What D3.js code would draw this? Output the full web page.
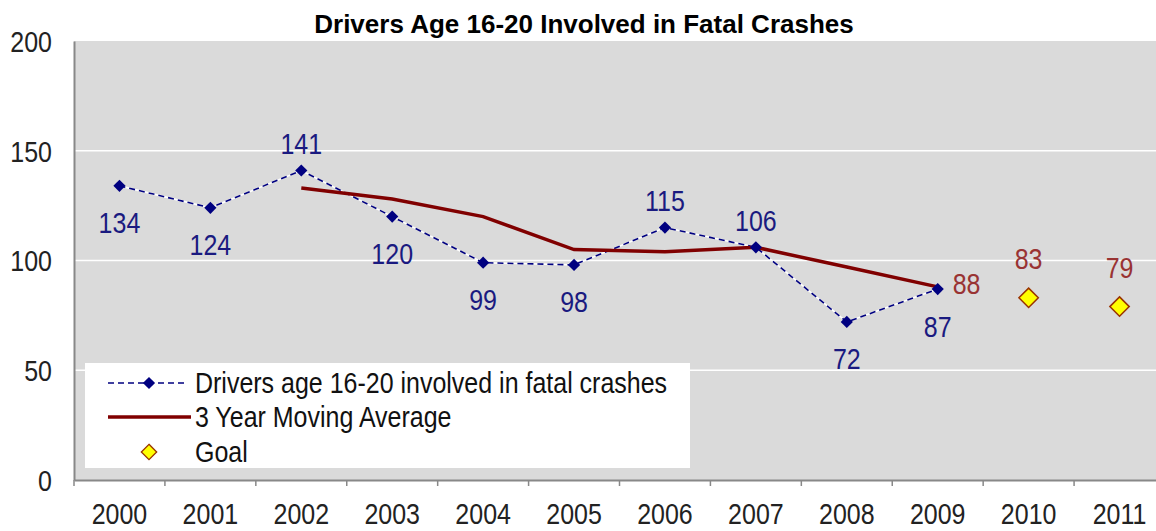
<!DOCTYPE html>
<html>
<head>
<meta charset="utf-8">
<script src="https://cdn.jsdelivr.net/npm/d3@7"></script>
<style>
  body { margin: 0; background: #ffffff; }
  svg { display: block; }
  text {
    font-family: "Liberation Sans", Arial, sans-serif;
    transform-box: fill-box;
    transform-origin: center;
    transform: scaleY(1.17);
  }
  text.title { transform: none; }
</style>
</head>
<body>
<div id="chart"></div>
<script>
// chart data
var years = ["2000", "2001", "2002", "2003", "2004", "2005", "2006", "2007", "2008", "2009", "2010", "2011"];
var drivers = [134, 124, 141, 120, 99, 98, 115, 106, 72, 87];
var driverLabelPos = ["below", "below", "above", "below", "below", "below", "above", "above", "below", "below"];
var movingAvgYears = ["2002", "2003", "2004", "2005", "2006", "2007", "2008", "2009"];
var movingAvg = [133, 128, 120, 105, 104, 106, 97, 88];
var goalYears = ["2010", "2011"];
var goals = [83, 79];
var yTicks = [0, 50, 100, 150, 200];
var legendNames = ["Drivers age 16-20 involved in fatal crashes", "3 Year Moving Average", "Goal"];

// #####################################################
// layout
//
var W = 1156, H = 531;
var margin = {top: 41, left: 74};
var width = 1091, height = 439;
var fs = "25px";

var svg = d3.select("#chart").append("svg")
    .attr("width", W)
    .attr("height", H);

var g = svg.append("g")
    .attr("transform", "translate(" + margin.left + "," + margin.top + ")");

var x = d3.scaleBand().domain(years).range([0, width]).padding(0);
var y = d3.scaleLinear().domain([0, 200]).range([height, 0]);
var cx = function(yr) { return x(yr) + x.bandwidth() / 2; };

// plot background
g.append("rect")
    .attr("x", 0).attr("y", 0)
    .attr("width", width).attr("height", height)
    .style("fill", "#dadada");

// gridlines
g.selectAll("line.grid")
    .data(yTicks.filter(function(d) { return d > 0 && d < 200; }))
    .enter().append("line")
      .attr("class", "grid")
      .attr("x1", 0).attr("x2", width)
      .attr("y1", function(d) { return y(d); })
      .attr("y2", function(d) { return y(d); })
      .style("stroke", "#ffffff")
      .style("stroke-width", 1.5);

// legend box (drawn before the data so lines stay on top)
var legend = g.append("g").attr("transform", "translate(11,322)");
legend.append("rect")
    .attr("x", 0).attr("y", 0)
    .attr("width", 605).attr("height", 105)
    .style("fill", "#ffffff");

// Y axis
var yAxis = g.append("g")
    .call(d3.axisLeft(y).tickValues(yTicks).tickSize(0).tickPadding(22));
yAxis.select(".domain").style("stroke", "#888888").style("stroke-width", 2);
yAxis.selectAll("text")
    .style("font-size", fs)
    .style("fill", "#222222")
    .attr("dy", "0.36em");

// X axis
var xAxis = g.append("g")
    .attr("transform", "translate(0," + height + ")")
    .call(d3.axisBottom(x).tickSize(0).tickPadding(25));
xAxis.select(".domain").style("stroke", "#888888").style("stroke-width", 2);
xAxis.selectAll("text")
    .style("font-size", fs)
    .style("fill", "#222222");
// tick marks between categories
xAxis.selectAll("line.sep")
    .data(years)
    .enter().append("line")
      .attr("class", "sep")
      .attr("x1", function(d) { return x(d); })
      .attr("x2", function(d) { return x(d); })
      .attr("y1", 0).attr("y2", 6)
      .style("stroke", "#888888")
      .style("stroke-width", 1.5);

// drivers series: white under-line then navy dashes
var driverLine = d3.line()
    .x(function(d, i) { return cx(years[i]); })
    .y(function(d) { return y(d); });

g.append("path")
    .datum(drivers)
    .attr("d", driverLine)
    .style("fill", "none")
    .style("stroke", "#ffffff")
    .style("stroke-width", 1.6);

g.append("path")
    .datum(drivers)
    .attr("d", driverLine)
    .style("fill", "none")
    .style("stroke", "#000080")
    .style("stroke-width", 1.6)
    .style("stroke-dasharray", "6,4");

// moving average
var maLine = d3.line()
    .x(function(d, i) { return cx(movingAvgYears[i]); })
    .y(function(d) { return y(d); });

g.append("path")
    .datum(movingAvg)
    .attr("d", maLine)
    .style("fill", "none")
    .style("stroke", "#800000")
    .style("stroke-width", 3.5);

// driver markers
var diamond = d3.symbol().type(d3.symbolDiamond2);
g.selectAll("path.dpt")
    .data(drivers)
    .enter().append("path")
      .attr("class", "dpt")
      .attr("d", diamond.size(95))
      .attr("transform", function(d, i) { return "translate(" + cx(years[i]) + "," + y(d) + ")"; })
      .style("fill", "#000080");

// goal markers
g.selectAll("path.goal")
    .data(goals)
    .enter().append("path")
      .attr("class", "goal")
      .attr("d", d3.symbol().type(d3.symbolDiamond2).size(240))
      .attr("transform", function(d, i) { return "translate(" + cx(goalYears[i]) + "," + y(d) + ")"; })
      .style("fill", "#ffff00")
      .style("stroke", "#993300")
      .style("stroke-width", 1.5);

// data labels
g.selectAll("text.dlab")
    .data(drivers)
    .enter().append("text")
      .attr("class", "dlab")
      .attr("x", function(d, i) { return cx(years[i]); })
      .attr("y", function(d, i) { return y(d) + (driverLabelPos[i] == "above" ? -27 : 37); })
      .attr("dy", "0.36em")
      .style("text-anchor", "middle")
      .style("font-size", fs)
      .style("fill", "#1a1a80")
      .text(function(d) { return d; });

var maLast = movingAvg.length - 1;
g.append("text")
    .attr("x", cx(movingAvgYears[maLast]) + 15)
    .attr("y", y(movingAvg[maLast]) - 3)
    .attr("dy", "0.36em")
    .style("font-size", fs)
    .style("fill", "#993333")
    .text(movingAvg[maLast]);

g.selectAll("text.glab")
    .data(goals)
    .enter().append("text")
      .attr("class", "glab")
      .attr("x", function(d, i) { return cx(goalYears[i]); })
      .attr("y", function(d) { return y(d) - 39; })
      .attr("dy", "0.36em")
      .style("text-anchor", "middle")
      .style("font-size", fs)
      .style("fill", "#993333")
      .text(function(d) { return d; });

// legend entries
var rowY = [20, 54, 89];
legend.append("line")
    .attr("x1", 23).attr("x2", 103)
    .attr("y1", rowY[0]).attr("y2", rowY[0])
    .style("stroke", "#000080")
    .style("stroke-width", 1.6)
    .style("stroke-dasharray", "6,4");
legend.append("path")
    .attr("d", diamond.size(95))
    .attr("transform", "translate(64," + rowY[0] + ")")
    .style("fill", "#000080");
legend.append("line")
    .attr("x1", 23).attr("x2", 106)
    .attr("y1", rowY[1]).attr("y2", rowY[1])
    .style("stroke", "#800000")
    .style("stroke-width", 3.5);
legend.append("path")
    .attr("d", d3.symbol().type(d3.symbolDiamond2).size(150))
    .attr("transform", "translate(64," + rowY[2] + ")")
    .style("fill", "#ffff00")
    .style("stroke", "#993300")
    .style("stroke-width", 1.3);
legend.selectAll("text.leg")
    .data(legendNames)
    .enter().append("text")
      .attr("class", "leg")
      .attr("x", 110)
      .attr("y", function(d, i) { return rowY[i]; })
      .attr("dy", "0.36em")
      .style("font-size", fs)
      .style("fill", "#111111")
      .text(function(d) { return d; });

// title
svg.append("text")
    .attr("class", "title")
    .attr("x", 584)
    .attr("y", 24)
    .attr("dy", "0.36em")
    .style("text-anchor", "middle")
    .style("font-size", "26px")
    .style("font-weight", "bold")
    .style("fill", "#000000")
    .text("Drivers Age 16-20 Involved in Fatal Crashes");
</script>
</body>
</html>
